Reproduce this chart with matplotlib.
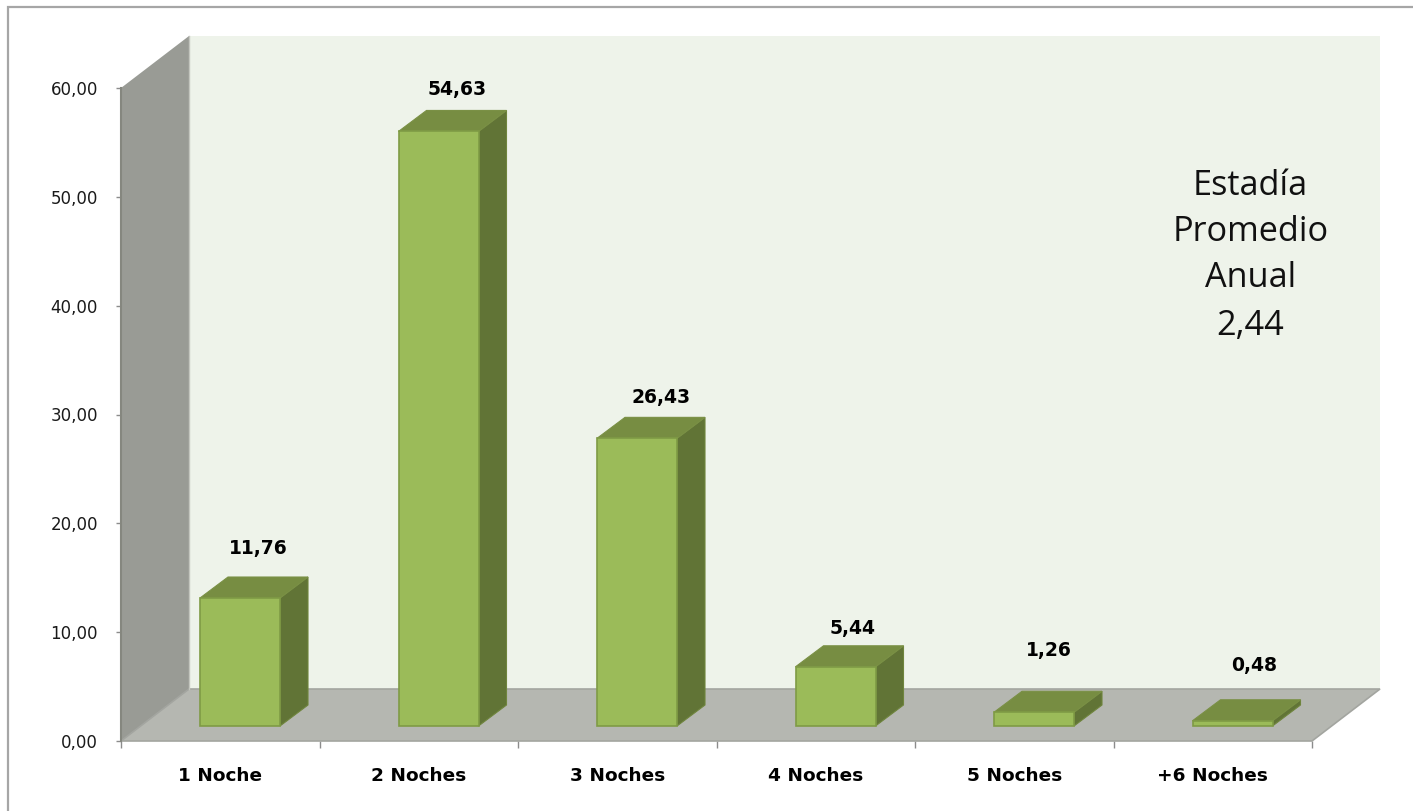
import matplotlib
matplotlib.use("Agg")
import matplotlib.pyplot as plt
from matplotlib.patches import Polygon, Rectangle

categories = ["1 Noche", "2 Noches", "3 Noches", "4 Noches", "5 Noches", "+6 Noches"]
values = [11.76, 54.63, 26.43, 5.44, 1.26, 0.48]
value_labels = ["11,76", "54,63", "26,43", "5,44", "1,26", "0,48"]
y_ticks = [0, 10, 20, 30, 40, 50, 60]
note_lines = ["Estadía", "Promedio", "Anual", "2,44"]

W, H = 1413, 811
fig = plt.figure(figsize=(W / 100, H / 100), dpi=100, facecolor="white")
L, R, T, B = 121, 1312, 88, 741
ax = fig.add_axes([L / W, 1 - B / H, (R - L) / W, (B - T) / H])
ax.set_xlim(0, 6)
ax.set_ylim(0, 60)
ax.patch.set_visible(False)
for s in ax.spines.values():
    s.set_visible(False)

px = 6 / (R - L)
py = 60 / (B - T)
dx, dy = 68 * px, 52 * py
bw = 80 * px
bdx, bdy = 28 * px, 21 * py
bx0, by0 = 79 * px, 15 * py

# hand-placed label offsets from the back top edge of each bar (pixels)
label_dx = [18, 19, 24, 17, 15, 22]
label_dy = [29, 21, 20, 17, 41, 34]

def poly(pts, fc, ec="none", lw=0, z=1):
    ax.add_patch(Polygon(pts, closed=True, facecolor=fc, edgecolor=ec, linewidth=lw,
                         clip_on=False, zorder=z, joinstyle="miter"))

# back wall, side wall, floor
poly([(dx, dy), (6 + dx, dy), (6 + dx, 60 + dy), (dx, 60 + dy)], "#EEF3EA", z=1)
poly([(0, 0), (dx, dy), (dx, 60 + dy), (0, 60)], "#999B95", z=2)
poly([(0, 0), (6, 0), (6 + dx, dy), (dx, dy)], "#B5B7B1", "#A3A5A0", 1.2, z=2)
ax.plot([0, 0], [0, 60], color="#85877F", lw=1.5, clip_on=False, zorder=3)
ax.plot([dx, dx], [dy, 60 + dy], color="#C4C6BF", lw=1, clip_on=False, zorder=3)

# bars
for i, (v, lab) in enumerate(zip(values, value_labels)):
    x0 = i + bx0
    x1 = x0 + bw
    y0 = by0
    y1 = by0 + v
    poly([(x1, y0), (x1 + bdx, y0 + bdy), (x1 + bdx, y1 + bdy), (x1, y1)], "#617436", "#6F853D", 0.8, z=4)
    poly([(x0, y1), (x1, y1), (x1 + bdx, y1 + bdy), (x0 + bdx, y1 + bdy)], "#778D42", "#7A9045", 0.8, z=4)
    poly([(x0, y0), (x1, y0), (x1, y1), (x0, y1)], "#9BBB59", "#7F9B45", 1.2, z=5)
    ax.annotate(lab, ((x0 + x1) / 2, y1 + bdy), xytext=(label_dx[i], label_dy[i]),
                textcoords="offset pixels", ha="center", va="center", fontsize=13.5,
                fontweight="bold", family="DejaVu Sans", color="#000000", zorder=6,
                annotation_clip=False)

ax.set_yticks(y_ticks)
ax.set_yticklabels([f"{t:.2f}".replace(".", ",") for t in y_ticks], fontsize=12,
                   family="DejaVu Sans", color="#1a1a1a")
ax.set_xticks(range(7))
ax.set_xticklabels([""] * 7)
ax.tick_params(axis="y", length=3.6, width=1, color="#8c8c8c", pad=13)
ax.tick_params(axis="x", length=5, width=1, color="#8c8c8c")
for i, c in enumerate(categories):
    ax.annotate(c, (i + 0.5, 0), xytext=(0, -35), textcoords="offset pixels", ha="center",
                va="center", fontsize=13.3, fontweight="bold", family="DejaVu Sans",
                color="#000000", annotation_clip=False)

# annotation text, in data coordinates of the value axis
for line, yv in zip(note_lines, [51.0, 46.8, 42.5, 38.1]):
    ax.text(5.69, yv, line, ha="center", va="center", fontsize=24.7, family="Open Sans",
            color="#111111", zorder=6, clip_on=False)

# outer frame
fig.add_artist(Rectangle((8 / W, -0.02), 1.1, 1 - 7 / H + 0.02, transform=fig.transFigure,
                         facecolor="none", edgecolor="#A6A6A6", linewidth=1.6))

fig.savefig("out.png", dpi=100)
